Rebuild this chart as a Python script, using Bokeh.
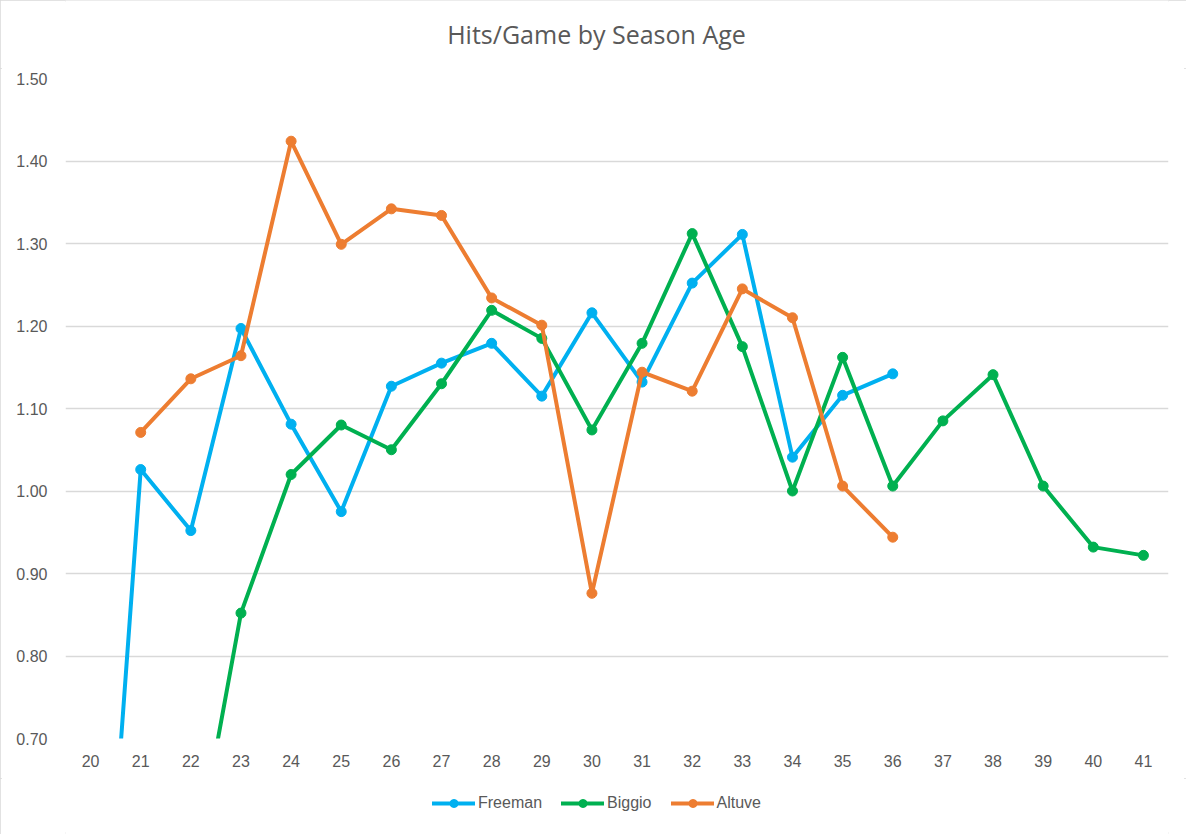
from bokeh.plotting import figure
from bokeh.layouts import column
from bokeh.models import (Legend, LegendItem, FixedTicker, Range1d,
                          CustomJSTickFormatter, Label)
from bokeh.embed import file_html
from bokeh.resources import INLINE

ages_freeman = [20, 21, 22, 23, 24, 25, 26, 27, 28, 29, 30, 31, 32, 33, 34, 35, 36]
freeman = [0.19, 1.026, 0.952, 1.197, 1.081, 0.975, 1.127, 1.155, 1.179, 1.115,
           1.216, 1.132, 1.252, 1.311, 1.041, 1.116, 1.142]

ages_biggio = [22, 23, 24, 25, 26, 27, 28, 29, 30, 31, 32, 33, 34, 35, 36, 37, 38, 39, 40, 41]
biggio = [0.52, 0.852, 1.020, 1.080, 1.050, 1.130, 1.219, 1.185, 1.074, 1.179,
          1.312, 1.175, 1.000, 1.162, 1.006, 1.085, 1.141, 1.006, 0.932, 0.922]

ages_altuve = [21, 22, 23, 24, 25, 26, 27, 28, 29, 30, 31, 32, 33, 34, 35, 36]
altuve = [1.071, 1.136, 1.164, 1.424, 1.299, 1.342, 1.334, 1.234, 1.201, 0.876,
          1.144, 1.121, 1.245, 1.210, 1.006, 0.944]

x_ticks = list(range(20, 42))
y_ticks = [0.70, 0.80, 0.90, 1.00, 1.10, 1.20, 1.30, 1.40, 1.50]
chart_title = "Hits/Game by Season Age"

series = [
    ("Freeman", ages_freeman, freeman, "#00B0F0"),
    ("Biggio", ages_biggio, biggio, "#00B050"),
    ("Altuve", ages_altuve, altuve, "#ED7D31"),
]

FONT = "Liberation Sans"
TXT = "#595959"
W = 1186


def bare(fig):
    fig.outline_line_color = None
    fig.background_fill_color = "white"
    fig.border_fill_color = "white"
    fig.xgrid.grid_line_color = None
    fig.ygrid.grid_line_color = None


# ---- title strip (its frame is aligned with the main frame: 65..1168) ----
tf = figure(width=W, height=68, output_backend="svg", toolbar_location=None,
            x_range=Range1d(0, 1), y_range=Range1d(0, 1),
            x_axis_type=None, y_axis_type=None,
            min_border_left=0, min_border_right=0, min_border_top=0, min_border_bottom=0)
bare(tf)
tf.add_layout(Label(x=(596 - 65) / 1103, y=(68 - 33) / 68, text=chart_title,
                    text_align="center", text_baseline="middle", text_font="Open Sans",
                    text_font_size="25px", text_color=TXT))

# ---- main chart ----
p = figure(frame_width=1103, frame_height=660, output_backend="svg", toolbar_location=None,
           x_range=Range1d(19.5, 41.5), y_range=Range1d(0.70, 1.50),
           min_border_left=65, min_border_right=18, min_border_top=10,
           min_border_bottom=40)
bare(p)
p.ygrid.grid_line_color = "#d9d9d9"
p.ygrid.grid_line_width = 1.5

p.xaxis.ticker = FixedTicker(ticks=x_ticks)
p.yaxis.ticker = FixedTicker(ticks=y_ticks)
p.yaxis.formatter = CustomJSTickFormatter(code="return tick.toFixed(2);")
for ax in (p.xaxis, p.yaxis):
    ax.axis_line_color = None
    ax.major_tick_line_color = None
    ax.minor_tick_line_color = None
    ax.major_tick_out = 0
    ax.major_tick_in = 0
    ax.minor_tick_out = 0
    ax.major_label_text_font = FONT
    ax.major_label_text_font_size = "16px"
    ax.major_label_text_color = TXT
p.xaxis.major_label_standoff = 16
p.yaxis.major_label_standoff = 18

for name, xs, ys, col in series:
    p.line(xs, ys, line_color=col, line_width=4, line_join="round", line_cap="round")
    p.scatter(xs, ys, size=10, fill_color=col, line_color=col)

# ---- legend strip ----
lf = figure(width=W, height=56, output_backend="svg", toolbar_location=None,
            x_range=Range1d(0, 1), y_range=Range1d(0, 1),
            x_axis_type=None, y_axis_type=None,
            min_border_left=0, min_border_right=0, min_border_top=0, min_border_bottom=0)
bare(lf)
items = []
for name, xs, ys, col in series:
    ln = lf.line(xs, ys, line_color=col, line_width=4, line_cap="round")
    sc = lf.scatter(xs, ys, size=10, fill_color=col, line_color=col)
    items.append(LegendItem(label=name, renderers=[ln, sc]))

legend = Legend(items=items, orientation="horizontal", location=(367, 21),
                label_text_font=FONT, label_text_font_size="16px",
                label_text_color=TXT, glyph_width=43, glyph_height=20,
                label_height=20, label_standoff=3,
                spacing=19, border_line_color=None, background_fill_alpha=0,
                padding=0, margin=0)
lf.add_layout(legend, "center")

layout = column(tf, p, lf, spacing=0,
                styles={"outline": "2px solid #d9d9d9", "outline-offset": "-2px"})

open("out.html", "w").write(file_html(layout, INLINE))
